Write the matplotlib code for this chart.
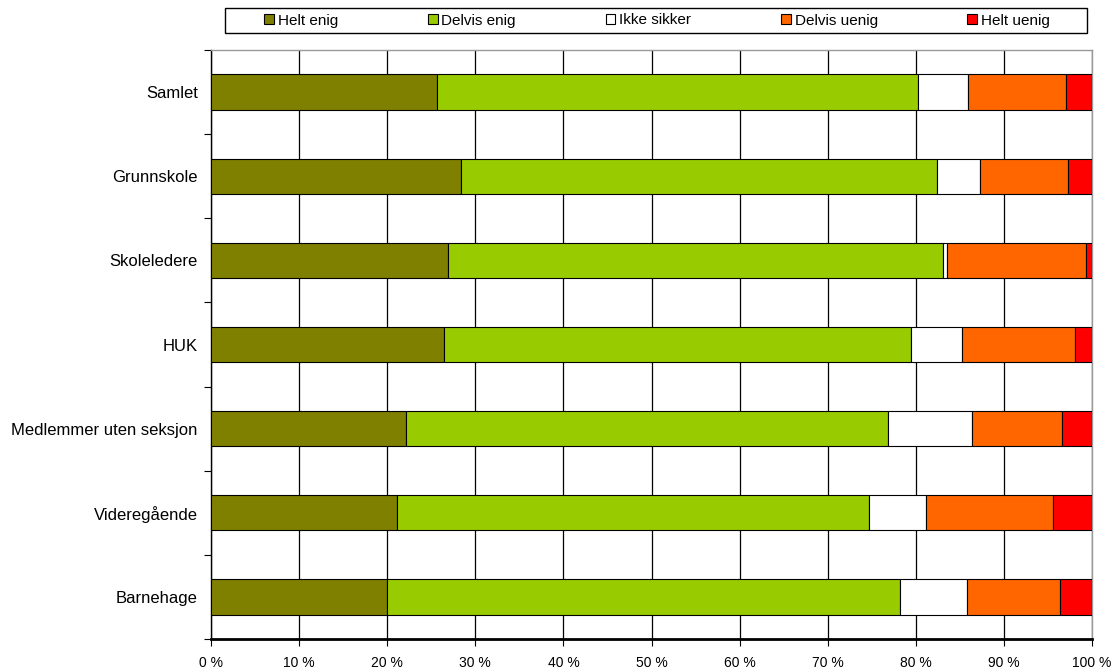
import matplotlib
matplotlib.use("Agg")
import matplotlib.pyplot as plt
import numpy as np
from matplotlib.patches import Patch, Rectangle

plt.rcParams['font.family'] = ['Liberation Sans', 'DejaVu Sans']

groups = ["Samlet", "Grunnskole", "Skoleledere", "HUK",
          "Medlemmer uten seksjon", "Videregående", "Barnehage"]
series_names = ["Helt enig", "Delvis enig", "Ikke sikker", "Delvis uenig", "Helt uenig"]
helt_enig = [25.7, 28.4, 26.9, 26.4, 22.1, 21.1, 20.0]
delvis_enig = [54.6, 54.0, 56.2, 53.0, 54.7, 53.6, 58.2]
ikke_sikker = [5.6, 4.9, 0.4, 5.9, 9.6, 6.5, 7.6]
delvis_uenig = [11.1, 10.0, 15.8, 12.8, 10.2, 14.4, 10.6]
helt_uenig = [3.0, 2.7, 0.7, 1.9, 3.4, 4.4, 3.6]
colors = ["#808000", "#99CC00", "#FFFFFF", "#FF6600", "#FF0000"]
xticks = [0, 10, 20, 30, 40, 50, 60, 70, 80, 90, 100]

W, H = 1114, 669
fig = plt.figure(figsize=(W / 100, H / 100), dpi=100)
ax = fig.add_axes([211 / W, 1 - 639 / H, 881 / W, 589 / H])

y = np.arange(len(groups))
left = np.zeros(len(groups))
handles = []
for name, vals, col in zip(series_names,
                           [helt_enig, delvis_enig, ikke_sikker, delvis_uenig, helt_uenig],
                           colors):
    vals = np.array(vals)
    ax.barh(y, vals, left=left, height=0.42, color=col, edgecolor="black",
            linewidth=0.8, zorder=3)
    left += vals
    handles.append(Patch(facecolor=col, edgecolor="black", linewidth=0.8, label=name))

ax.set_xlim(0, 100)
ax.set_ylim(len(groups) - 0.5, -0.5)

ax.set_xticks(xticks)
ax.set_xticklabels([f"{v} %" for v in xticks], fontsize=10)
ax.tick_params(axis="x", direction="out", length=5, width=0.8, pad=7, colors="black")
ax.xaxis.grid(True, color="black", linewidth=0.9, zorder=0)

ax.set_yticks(y)
ax.set_yticklabels(groups, fontsize=12)
ax.tick_params(axis="y", which="major", length=0, pad=9.5)
ax.set_yticks(np.arange(len(groups) + 1) - 0.5, minor=True)
ax.tick_params(axis="y", which="minor", direction="out", length=5, width=0.8)

for s in ["top", "right"]:
    ax.spines[s].set_color("#999999")
    ax.spines[s].set_linewidth(1.0)
ax.spines["left"].set_color("black")
ax.spines["left"].set_linewidth(1.0)
ax.spines["bottom"].set_color("black")
ax.spines["bottom"].set_linewidth(2.0)

# legend box across the top, entries spread inside it
fig.patches.append(Rectangle((225 / W, 1 - 33 / H), 862 / W, 25 / H,
                             transform=fig.transFigure, facecolor="white",
                             edgecolor="black", linewidth=1.0))
leg = fig.legend(handles=handles, loc="center left", ncol=5, mode="expand",
                 bbox_to_anchor=(264 / W, 1 - 20.5 / H, 786 / W, 0),
                 frameon=False, fontsize=11,
                 handlelength=0.65, handleheight=0.65, handletextpad=0.25,
                 borderpad=0, borderaxespad=0)

fig.savefig("out.png", dpi=100, facecolor="white")
